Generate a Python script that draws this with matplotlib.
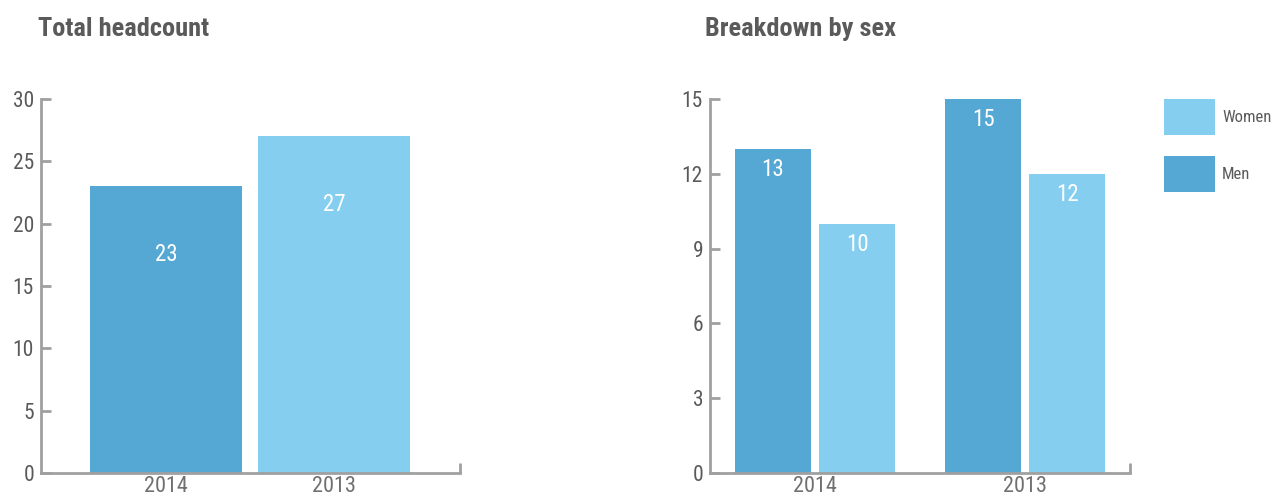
import matplotlib
matplotlib.use("Agg")
import matplotlib.pyplot as plt
from matplotlib.patches import Patch

plt.rcParams['font.family'] = ['Roboto Condensed', 'DejaVu Sans']

years = ["2014", "2013"]
total = [23, 27]
men = [13, 15]
women = [10, 12]

DARK = "#54A8D3"
LIGHT = "#86CEF0"
TXT = "#5a5a5a"
AX = "#a0a0a0"

W, H = 1279, 497
fig = plt.figure(figsize=(W / 100, H / 100), dpi=100)

def px_axes(x0, x1, y0, y1):
    return fig.add_axes([x0 / W, 1 - y1 / H, (x1 - x0) / W, (y1 - y0) / H])

def style(ax, yticks):
    for s in ["top", "right"]:
        ax.spines[s].set_visible(False)
    for s in ["left", "bottom"]:
        ax.spines[s].set_color(AX)
        ax.spines[s].set_linewidth(2)
    ax.set_yticks(yticks)
    ax.tick_params(axis="y", direction="in", length=7.5, width=2, color=AX,
                   labelsize=15.5, labelcolor=TXT, pad=5)
    ax.tick_params(axis="x", length=0, labelsize=16, labelcolor="#707070", pad=2)
    ax.plot([1, 1], [0, 0.027], transform=ax.transAxes, color=AX, lw=2,
            clip_on=False, solid_capstyle="butt")

# Left chart
ax1 = px_axes(41, 460, 99, 473)
x = [0, 1]
cols = [DARK, LIGHT]
ax1.bar(x, total, width=0.905, color=cols)
ax1.set_xlim(-0.744, 1.75)
ax1.set_ylim(0, 30)
style(ax1, [0, 5, 10, 15, 20, 25, 30])
ax1.set_xticks(x)
ax1.set_xticklabels(years)
for xi, v in zip(x, total):
    ax1.annotate(str(v), (xi, v), xytext=(0, -49), textcoords="offset points",
                 ha="center", va="center", color="white", fontsize=16.5)
fig.text(38 / W, 1 - 29 / H, "Total headcount", fontsize=19, fontweight="bold",
         color=TXT, ha="left", va="center")

# Right chart
ax2 = px_axes(710, 1130, 99, 473)
off = 0.2
bw = 0.362
xm = [xi - off for xi in x]
xw = [xi + off for xi in x]
ax2.bar(xm, men, width=bw, color=DARK, label="Men")
ax2.bar(xw, women, width=bw, color=LIGHT, label="Women")
ax2.set_xlim(-0.5, 1.5)
ax2.set_ylim(0, 15)
style(ax2, [0, 3, 6, 9, 12, 15])
ax2.set_xticks(x)
ax2.set_xticklabels(years)
for xs, vs in ((xm, men), (xw, women)):
    for xi, v in zip(xs, vs):
        ax2.annotate(str(v), (xi, v), xytext=(0, -15), textcoords="offset points",
                     ha="center", va="center", color="white", fontsize=16.5)
fig.text(705 / W, 1 - 29 / H, "Breakdown by sex", fontsize=19, fontweight="bold",
         color=TXT, ha="left", va="center")

handles = [Patch(facecolor=LIGHT, edgecolor="none"), Patch(facecolor=DARK, edgecolor="none")]
fs = 12
fpx = fs * 100 / 72
hh = (36 / fpx - 0.245) / 0.65
leg = fig.legend(handles, ["Women", "Men"], loc="upper left",
                 bbox_to_anchor=(1164 / W, 1 - 99 / H), frameon=False,
                 fontsize=fs, borderpad=0, borderaxespad=0,
                 handlelength=51 / fpx, handleheight=hh,
                 labelspacing=21 / fpx, handletextpad=7 / fpx)
for t in leg.get_texts():
    t.set_color(TXT)

fig.savefig("out.png", dpi=100)
